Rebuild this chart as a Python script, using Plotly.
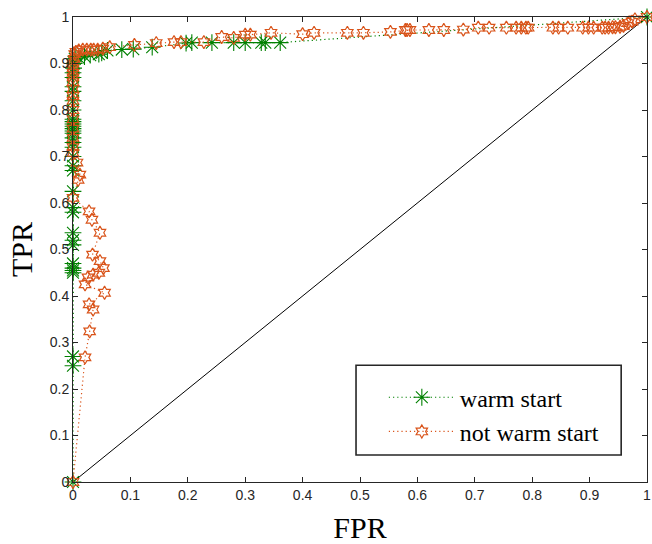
import plotly.graph_objects as go

# warm start ROC points
warm_fpr = [0, 0, 0, 0, 0, 0, 0, 0, 0, 0, 0, 0, 0, 0, 0, 0, 0, 0, 0, 0, 0, 0, 0, 0, 0, 0, 0, 0, 0, 0, 0, 0,
            0.001, 0.002, 0.003, 0.005, 0.01, 0.02, 0.03, 0.045, 0.05, 0.06, 0.085, 0.105, 0.138, 0.197, 0.207,
            0.242, 0.28, 0.3, 0.328, 0.335, 0.361, 1.0]
warm_tpr = [0, 0.25, 0.27, 0.45, 0.455, 0.46, 0.47, 0.51, 0.52, 0.536, 0.58, 0.59, 0.625, 0.67, 0.68, 0.7,
            0.72, 0.73, 0.74, 0.75, 0.755, 0.76, 0.765, 0.77, 0.775, 0.78, 0.8, 0.82, 0.84, 0.85, 0.87, 0.88,
            0.89, 0.9, 0.91, 0.915, 0.912, 0.915, 0.918, 0.92, 0.923, 0.928, 0.93, 0.931, 0.935, 0.944, 0.945,
            0.945, 0.945, 0.945, 0.945, 0.945, 0.945, 1.0]

# not warm start ROC points
cold_fpr = [0, 0.021, 0.029, 0.035, 0.028, 0.055, 0.021, 0.026, 0.035, 0.045, 0.053, 0.047, 0.034, 0.047,
            0.033, 0.028, 0, 0.009, 0.012, 0.007, 0, 0, 0, 0, 0, 0, 0, 0, 0, 0, 0, 0, 0, 0,
            0.002, 0.003, 0.005, 0.01, 0.017, 0.024, 0.031, 0.036, 0.043, 0.052, 0.064, 0.107, 0.145, 0.176,
            0.188, 0.228, 0.259, 0.28, 0.3, 0.309, 0.345, 0.4, 0.42, 0.478, 0.506, 0.553, 0.579, 0.582, 0.587,
            0.62, 0.646, 0.68, 0.706, 0.725, 0.755, 0.772, 0.781, 0.789, 0.793, 0.836, 0.846, 0.862, 0.888,
            0.898, 0.907, 0.922, 0.927, 0.933, 0.94, 0.945, 0.953, 0.959, 0.967, 0.974, 0.979, 1.0]
cold_tpr = [0, 0.268, 0.324, 0.371, 0.382, 0.407, 0.425, 0.44, 0.446, 0.45, 0.46, 0.475, 0.489, 0.536,
            0.564, 0.582, 0.611, 0.65, 0.661, 0.687, 0.708, 0.72, 0.74, 0.76, 0.78, 0.8, 0.82, 0.83, 0.845,
            0.86, 0.87, 0.88, 0.89, 0.9, 0.91, 0.92, 0.925, 0.928, 0.93, 0.93, 0.93, 0.93, 0.93, 0.932,
            0.935, 0.94, 0.944, 0.946, 0.946, 0.946, 0.957, 0.955, 0.962, 0.962, 0.966, 0.963, 0.966, 0.966,
            0.966, 0.968, 0.972, 0.972, 0.972, 0.972, 0.972, 0.973, 0.977, 0.977, 0.977, 0.977, 0.977, 0.977,
            0.977, 0.977, 0.977, 0.977, 0.977, 0.977, 0.977, 0.977, 0.977, 0.977, 0.978, 0.978, 0.979, 0.981,
            0.987, 0.99, 0.995, 1.0]

diag = [0, 1]
ticks = [round(i * 0.1, 1) for i in range(11)]
tick_text = ["0", "0.1", "0.2", "0.3", "0.4", "0.5", "0.6", "0.7", "0.8", "0.9", "1"]

GREEN = "#008000"
ORANGE = "#D95319"
AX = "#262626"
DOT = "1.2px,3px"

fig = go.Figure()
fig.add_trace(go.Scatter(x=diag, y=diag, mode="lines", line=dict(color="black", width=1),
                         showlegend=False, hoverinfo="skip"))
fig.add_trace(go.Scatter(x=warm_fpr, y=warm_tpr, mode="lines+markers", name="warm start",
                         cliponaxis=False,
                         line=dict(color=GREEN, width=1.2, dash=DOT),
                         marker=dict(symbol="asterisk-open", size=14, color=GREEN,
                                     line=dict(color=GREEN, width=1.1))))
fig.add_trace(go.Scatter(x=cold_fpr, y=cold_tpr, mode="lines+markers", name="not warm start",
                         cliponaxis=False,
                         line=dict(color=ORANGE, width=1.2, dash=DOT),
                         marker=dict(symbol="hexagram-open", size=10, color=ORANGE,
                                     line=dict(color=ORANGE, width=1.2))))

W, H = 652, 544
L, R, T, B = 73, 1, 17, 61
pw, ph = W - L - R, H - T - B

def px2x(p):
    return (p - L) / pw

def py2y(p):
    return (H - B - p) / ph

fig.add_shape(type="rect", xref="paper", yref="paper",
              x0=px2x(358), x1=px2x(625), y0=py2y(456), y1=py2y(366),
              line=dict(color=AX, width=1.6), fillcolor="white", layer="below")

axis_common = dict(range=[0, 1], tickvals=ticks, ticktext=tick_text, ticks="inside", ticklen=5,
                   tickcolor=AX, showline=True, linecolor=AX, linewidth=1, mirror="ticks",
                   showgrid=False, zeroline=False, ticklabeloverflow="allow",
                   tickfont=dict(family="Liberation Sans, Arial", size=14, color=AX))

SERIF = "Liberation Serif"

fig.update_layout(
    width=W, height=H, margin=dict(l=L, r=R, t=T, b=B, pad=0),
    plot_bgcolor="white", paper_bgcolor="white",
    xaxis=dict(**axis_common, title=dict(text="FPR", standoff=19,
               font=dict(family=SERIF, size=30, color="black"))),
    yaxis=dict(**axis_common, title=dict(text="TPR", standoff=8,
               font=dict(family=SERIF, size=30, color="black"))),
    legend=dict(x=px2x(386), y=py2y(415.5), xanchor="left", yanchor="middle",
                bgcolor="rgba(0,0,0,0)", borderwidth=0, traceorder="normal",
                itemwidth=66,
                font=dict(family=SERIF, size=24, color="black")),
    showlegend=True,
)

fig.write_html("out.html")
